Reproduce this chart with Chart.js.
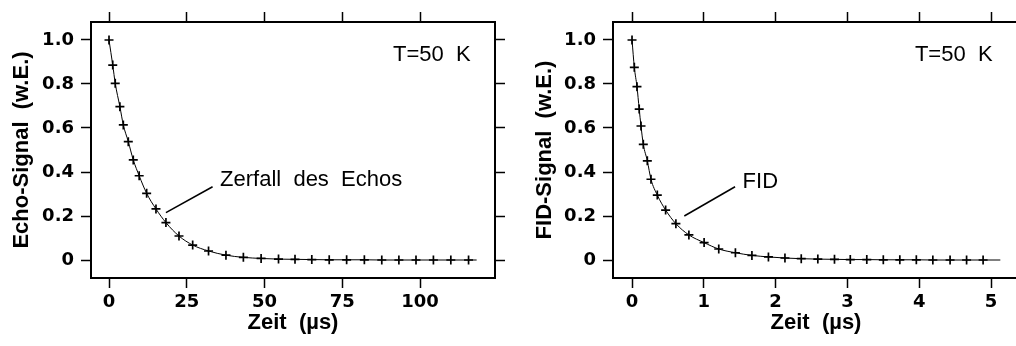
<!DOCTYPE html>
<html>
<head>
<meta charset="utf-8">
<title>Echo und FID</title>
<script src="https://cdn.jsdelivr.net/npm/chart.js@4/dist/chart.umd.min.js"></script>
<style>
  html, body { margin: 0; padding: 0; background: #fff; overflow: hidden; }
  body { width: 1016px; height: 346px; position: relative; }
  canvas { position: absolute; top: 0; }
  #echoChart { left: 0; }
  #fidChart { left: 520px; }
</style>
</head>
<body>
<canvas id="echoChart" width="520" height="346"></canvas>
<canvas id="fidChart" width="520" height="346"></canvas>
<script>
// Echo decay (left panel), time in µs
const echoTime = [0, 1.2, 2.0, 3.5, 4.6, 6.2, 7.8, 9.7, 12.1, 15.1, 18.3, 22.5, 26.9, 32.0, 37.6,
  43.2, 48.9, 54.5, 59.8, 65.2, 70.8, 76.4, 82.1, 87.7, 93.2, 98.7, 104.3, 109.9, 115.6];
const echoSignal = [1.0, 0.886, 0.803, 0.697, 0.614, 0.538, 0.455, 0.383, 0.303, 0.232, 0.170, 0.109,
  0.068, 0.041, 0.022, 0.012, 0.007, 0.004, 0.003, 0.002, 0.001, 0.001, 0.001, 0, 0, 0, 0, 0, 0];
const echoCurveEnd = [118.2, 0];

// FID (right panel), time in µs
const fidTime = [0, 0.032, 0.069, 0.10, 0.125, 0.157, 0.213, 0.264, 0.352, 0.468, 0.611, 0.792, 1.004,
  1.208, 1.44, 1.67, 1.90, 2.13, 2.357, 2.588, 2.82, 3.04, 3.27, 3.50, 3.73, 3.96, 4.19, 4.43, 4.66, 4.89];
const fidSignal = [1.0, 0.876, 0.788, 0.686, 0.609, 0.526, 0.451, 0.367, 0.295, 0.227, 0.165, 0.114, 0.079,
  0.050, 0.033, 0.021, 0.014, 0.009, 0.006, 0.004, 0.003, 0.002, 0.002, 0.001, 0.001, 0.001, 0, 0, 0, 0];
const fidCurveEnd = [5.13, 0];

// tick labels
const echoXTicks = [0, 25, 50, 75, 100];
const fidXTicks = [0, 1, 2, 3, 4, 5];
const yTicks = [0, 0.2, 0.4, 0.6, 0.8, 1.0];

const titleFont = { family: 'Liberation Sans', weight: 'bold', size: 22, lineHeight: 1.2 };
const tickFont = { family: 'DejaVu Sans', weight: 'bold', size: 18 };
const noteFont = '22px "Liberation Sans"';

function points(xs, ys) {
  return xs.map((x, i) => ({ x: x, y: ys[i] }));
}

function fixedTicks(values) {
  return function(scale) {
    scale.ticks = values.map(v => ({ value: v }));
  };
}

function edgeAxis(pos, min, max, values, size) {
  const horiz = pos === 'top' || pos === 'bottom';
  return {
    type: 'linear',
    position: pos,
    min: min,
    max: max,
    afterBuildTicks: fixedTicks(values),
    afterFit: function(scale) {
      if (horiz) scale.height = size; else scale.width = size;
    },
    grid: { drawOnChartArea: false, drawTicks: true, tickLength: 10, tickColor: '#000', tickWidth: 1.5 },
    border: { display: true, color: '#000', width: 2 },
    ticks: { display: false }
  };
}

// text and pointer lines drawn in data coordinates
const notePlugin = {
  id: 'notes',
  afterDatasetsDraw(chart, args, opts) {
    const ctx = chart.ctx;
    const sx = chart.scales.x, sy = chart.scales.y;
    ctx.save();
    ctx.fillStyle = '#000';
    ctx.strokeStyle = '#000';
    ctx.lineWidth = 1.5;
    ctx.font = noteFont;
    ctx.textBaseline = 'middle';
    ctx.textAlign = 'left';
    (opts.items || []).forEach(n => {
      if (n.line) {
        ctx.beginPath();
        ctx.moveTo(sx.getPixelForValue(n.line[0]), sy.getPixelForValue(n.line[1]));
        ctx.lineTo(sx.getPixelForValue(n.line[2]), sy.getPixelForValue(n.line[3]));
        ctx.stroke();
      }
      ctx.fillText(n.text, sx.getPixelForValue(n.x), sy.getPixelForValue(n.y));
    });
    ctx.restore();
  }
};

function makeChart(id, xs, ys, curveEnd, xMin, xMax, xTicks, yTitle, yWidth, titlePad, padRight, notes) {
  const curve = points(xs, ys).concat([{ x: curveEnd[0], y: curveEnd[1] }]);
  const ctx = document.getElementById(id).getContext('2d');
  const yMin = -0.0818, yMax = 1.0818;

  const xAxis = edgeAxis('bottom', xMin, xMax, xTicks, 68);
  xAxis.ticks = { display: true, color: '#000', font: tickFont, padding: 4, maxRotation: 0 };
  xAxis.title = { display: true, text: 'Zeit  (\u00b5s)', color: '#000', font: titleFont, padding: { top: 10, bottom: 10 } };

  const yAxis = edgeAxis('left', yMin, yMax, yTicks, yWidth);
  yAxis.ticks = {
    display: true, color: '#000', font: tickFont, padding: 7,
    callback: v => v === 0 ? '0' : v.toFixed(1)
  };
  yAxis.title = { display: true, text: yTitle, color: '#000', font: titleFont, padding: { top: titlePad, bottom: titlePad } };

  return new Chart(ctx, {
    type: 'scatter',
    data: {
      datasets: [{
        data: curve,
        showLine: true,
        cubicInterpolationMode: 'monotone',
        borderColor: '#000',
        borderWidth: 1,
        pointStyle: 'cross',
        pointRadius: curve.map((p, i) => i === curve.length - 1 ? 0 : 4.5),
        pointBorderWidth: 1.7,
        pointBorderColor: '#000',
        pointBackgroundColor: '#000'
      }]
    },
    options: {
      responsive: false,
      devicePixelRatio: 1,
      animation: false,
      clip: false,
      layout: { padding: { left: 0, top: 12, right: padRight, bottom: 0 } },
      plugins: {
        legend: { display: false },
        tooltip: { enabled: false },
        notes: { items: notes }
      },
      scales: {
        x: xAxis,
        y: yAxis,
        x2: edgeAxis('top', xMin, xMax, xTicks, 10),
        y2: edgeAxis('right', yMin, yMax, yTicks, 10)
      }
    },
    plugins: [notePlugin]
  });
}

makeChart('echoChart', echoTime, echoSignal, echoCurveEnd, -5.79, 124.1, echoXTicks,
  'Echo-Signal  (w.E.)', 91, 8.8, 15, [
    { text: 'Zerfall  des  Echos', x: 35.7, y: 0.364, line: [18.3, 0.215, 33.3, 0.333] },
    { text: 'T=50  K', x: 91.3, y: 0.932 }
  ]);

makeChart('fidChart', fidTime, fidSignal, fidCurveEnd, -0.265, 5.39, fidXTicks,
  'FID-Signal  (w.E.)', 93, 11.8, 11, [
    { text: 'FID', x: 1.54, y: 0.356, line: [0.728, 0.2, 1.435, 0.333] },
    { text: 'T=50  K', x: 3.94, y: 0.932 }
  ]);
</script>
</body>
</html>
